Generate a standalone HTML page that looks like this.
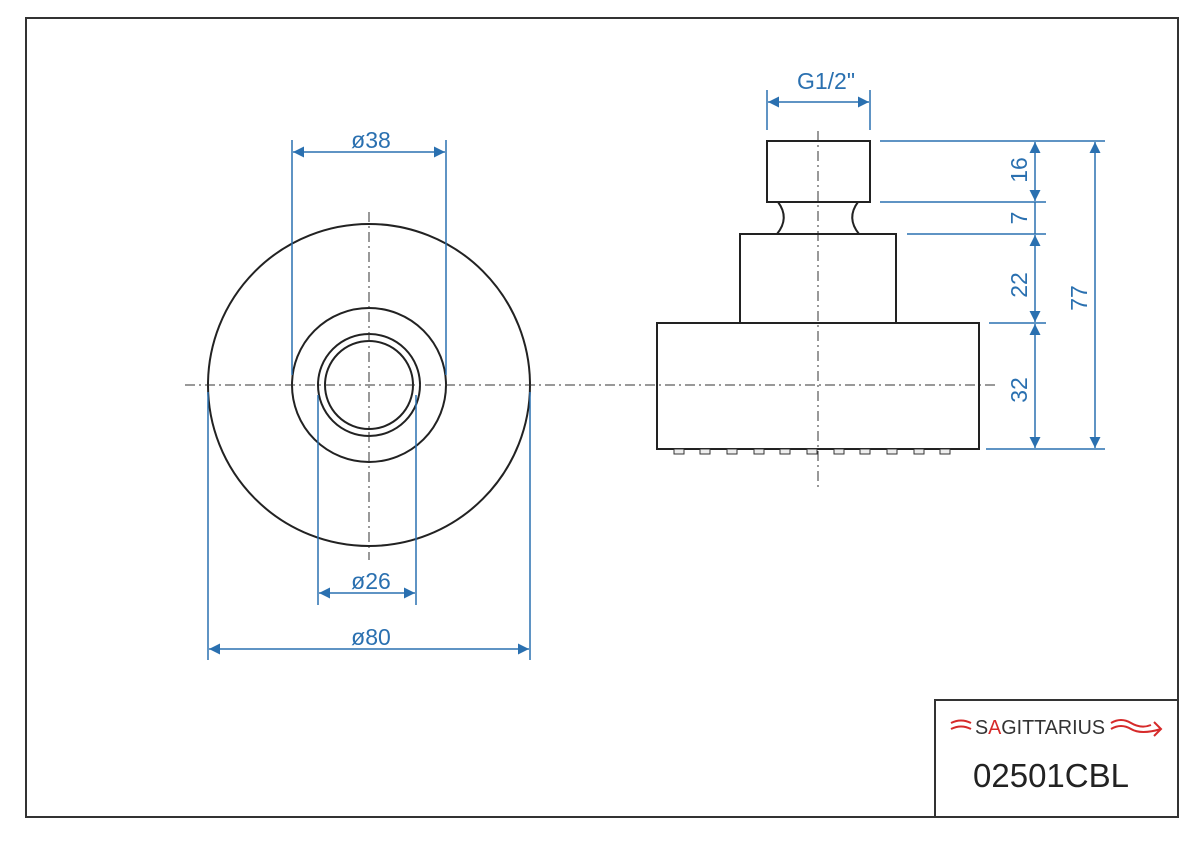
<!DOCTYPE html>
<html><head><style>body{margin:0;background:#fff}svg{display:block}</style></head><body>
<svg width="1200" height="843" viewBox="0 0 1200 843" xmlns="http://www.w3.org/2000/svg" font-family="Liberation Sans, sans-serif">
<defs>
<marker id="a" viewBox="0 0 10 10" refX="10" refY="5" markerWidth="20" markerHeight="11" markerUnits="userSpaceOnUse" orient="auto-start-reverse"><path d="M0,0L10,5L0,10z" fill="#2a70b0"/></marker>
</defs>
<rect x="26" y="18" width="1152" height="799" fill="none" stroke="#333" stroke-width="2"/>
<!-- title block -->
<rect x="935" y="700" width="243" height="117" fill="none" stroke="#333" stroke-width="2"/>
<text x="975" y="734" font-size="20" fill="#333" textLength="130" lengthAdjust="spacingAndGlyphs">S<tspan fill="#d62a2a">A</tspan>GITTARIUS</text>
<path d="M951,723q10,-5 20,0M951,729q10,-5 20,0" stroke="#d62a2a" stroke-width="2" fill="none"/>
<path d="M1111,723q10,-6 20,0t20,2M1111,729q10,-6 20,0t30,0M1154,722l7,7l-7,7" stroke="#d62a2a" stroke-width="2" fill="none"/>
<text x="1051" y="787" font-size="33" fill="#222" text-anchor="middle">02501CBL</text>
<!-- left view -->
<g stroke="#222" fill="none" stroke-width="2">
<circle cx="369" cy="385" r="161"/>
<circle cx="369" cy="385" r="77"/>
<circle cx="369" cy="385" r="51"/>
<circle cx="369" cy="385" r="44"/>
</g>
<g stroke="#333" stroke-width="1" stroke-dasharray="10,4,2,4">
<line x1="185" y1="385" x2="995" y2="385"/>
<line x1="369" y1="212" x2="369" y2="560"/>
<line x1="818" y1="131" x2="818" y2="488"/>
</g>
<g stroke="#2a70b0" stroke-width="1.5" fill="none">
<line x1="292" y1="140" x2="292" y2="375"/><line x1="446" y1="140" x2="446" y2="375"/>
<line x1="293" y1="152" x2="445" y2="152" marker-start="url(#a)" marker-end="url(#a)"/>
<line x1="318" y1="395" x2="318" y2="605"/><line x1="416" y1="395" x2="416" y2="605"/>
<line x1="319" y1="593" x2="415" y2="593" marker-start="url(#a)" marker-end="url(#a)"/>
<line x1="208" y1="392" x2="208" y2="660"/><line x1="530" y1="392" x2="530" y2="660"/>
<line x1="209" y1="649" x2="529" y2="649" marker-start="url(#a)" marker-end="url(#a)"/>
<line x1="767" y1="90" x2="767" y2="130"/><line x1="870" y1="90" x2="870" y2="130"/>
<line x1="768" y1="102" x2="869" y2="102" marker-start="url(#a)" marker-end="url(#a)"/>
<line x1="880" y1="141" x2="1105" y2="141"/>
<line x1="880" y1="202" x2="1046" y2="202"/>
<line x1="907" y1="234" x2="1046" y2="234"/>
<line x1="989" y1="323" x2="1046" y2="323"/>
<line x1="986" y1="449" x2="1105" y2="449"/>
<line x1="1035" y1="142" x2="1035" y2="201" marker-start="url(#a)" marker-end="url(#a)"/>
<line x1="1035" y1="235" x2="1035" y2="322" marker-start="url(#a)" marker-end="url(#a)"/>
<line x1="1035" y1="324" x2="1035" y2="448" marker-start="url(#a)" marker-end="url(#a)"/>
<line x1="1035" y1="202" x2="1035" y2="234"/>
<line x1="1095" y1="142" x2="1095" y2="448" marker-start="url(#a)" marker-end="url(#a)"/>
</g>
<g fill="#2a70b0" font-size="23" text-anchor="middle">
<text x="371" y="148">ø38</text>
<text x="371" y="589">ø26</text>
<text x="371" y="645">ø80</text>
<text x="826" y="89">G1/2"</text>
<text transform="translate(1027,170) rotate(-90)">16</text>
<text transform="translate(1027,218) rotate(-90)">7</text>
<text transform="translate(1027,285) rotate(-90)">22</text>
<text transform="translate(1027,390) rotate(-90)">32</text>
<text transform="translate(1087,298) rotate(-90)">77</text>
</g>
<!-- right view -->
<g stroke="#222" fill="none" stroke-width="2">
<rect x="767" y="141" width="103" height="61"/>
<path d="M778,202Q790,218 777,234M858,202Q846,218 859,234"/>
<rect x="740" y="234" width="156" height="89"/>
<path d="M657,323H979V449H657Z"/>
</g>
<g stroke="#333" fill="#eee" stroke-width="1">
<rect x="674" y="449" width="10" height="5"/><rect x="700" y="449" width="10" height="5"/><rect x="727" y="449" width="10" height="5"/><rect x="754" y="449" width="10" height="5"/><rect x="780" y="449" width="10" height="5"/><rect x="807" y="449" width="10" height="5"/><rect x="834" y="449" width="10" height="5"/><rect x="860" y="449" width="10" height="5"/><rect x="887" y="449" width="10" height="5"/><rect x="914" y="449" width="10" height="5"/><rect x="940" y="449" width="10" height="5"/>
</g>
</svg>
</body></html>
